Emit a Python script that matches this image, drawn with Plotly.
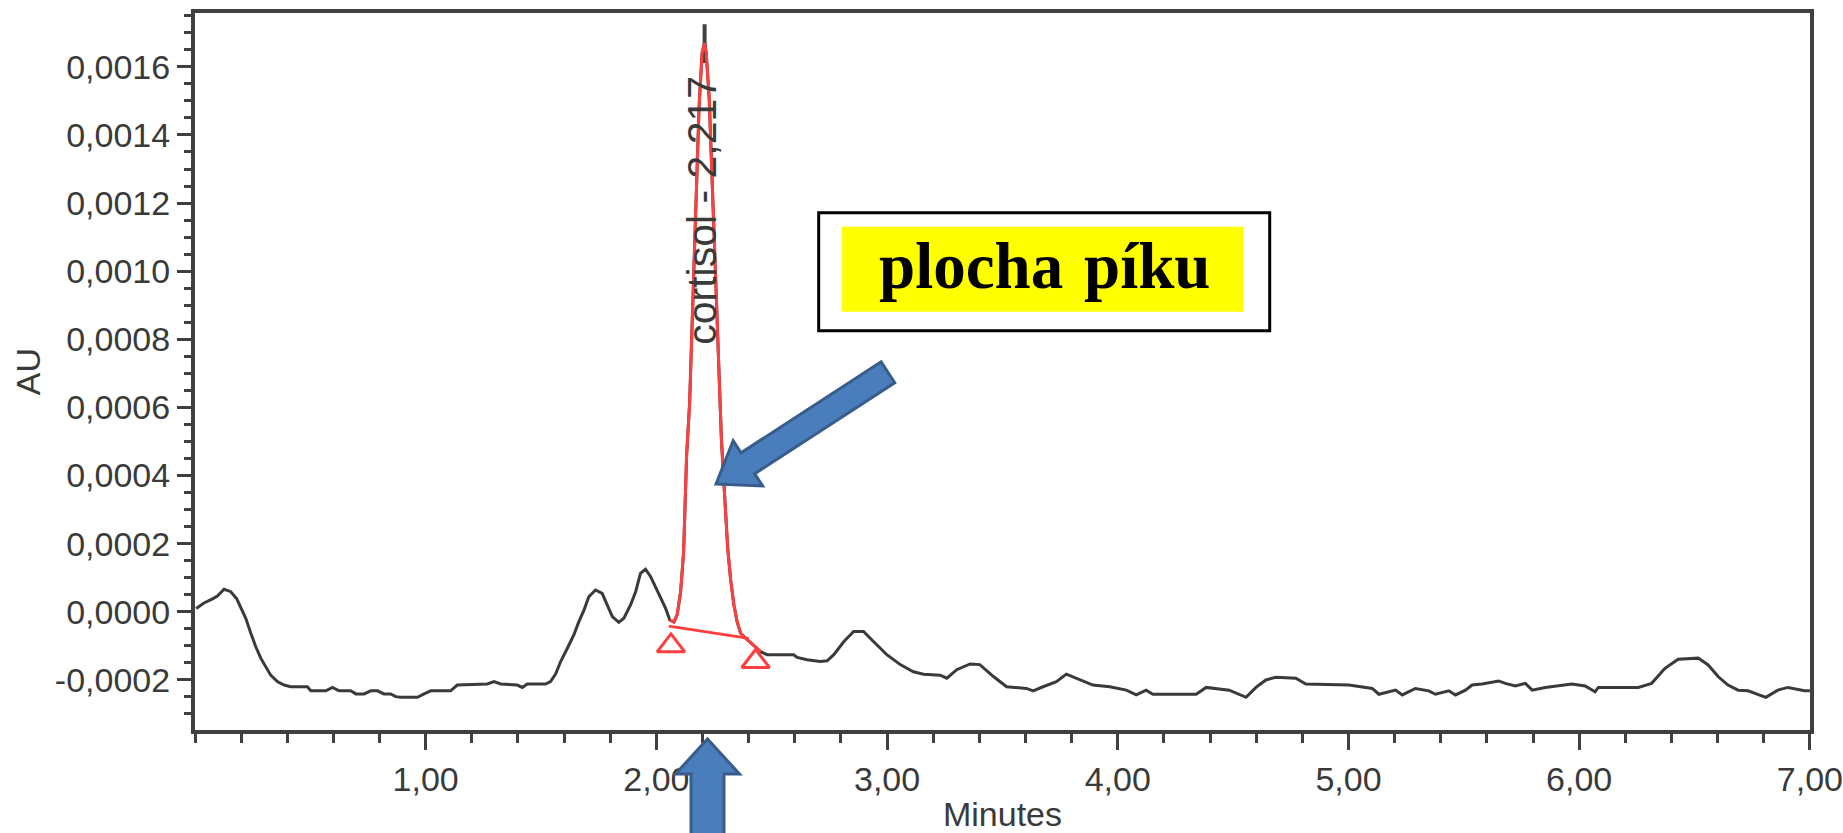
import plotly.graph_objects as go

# ---------------- data (minutes, AU) ----------------
pre_time = [0.005, 0.039, 0.076, 0.097, 0.126, 0.155, 0.181, 0.198, 0.220, 0.242,
            0.263, 0.285, 0.307, 0.328, 0.357, 0.386, 0.415, 0.487, 0.502, 0.567,
            0.596, 0.624, 0.675, 0.697, 0.733, 0.762, 0.791, 0.819, 0.848, 0.870,
            0.892, 0.964, 0.993, 1.022, 1.108, 1.137, 1.267, 1.296, 1.325, 1.397,
            1.419, 1.440, 1.520, 1.541, 1.563, 1.585, 1.614, 1.642, 1.664, 1.686,
            1.707, 1.736, 1.765, 1.787, 1.809, 1.837, 1.859, 1.888, 1.910, 1.931,
            1.953, 1.975, 2.011, 2.040, 2.058]
pre_au = [0.10e-4, 0.26e-4, 0.38e-4, 0.46e-4, 0.66e-4, 0.59e-4, 0.38e-4, 0.15e-4, -0.19e-4, -0.63e-4,
          -1.02e-4, -1.36e-4, -1.61e-4, -1.86e-4, -2.05e-4, -2.15e-4, -2.20e-4, -2.20e-4, -2.32e-4, -2.32e-4,
          -2.22e-4, -2.32e-4, -2.32e-4, -2.41e-4, -2.41e-4, -2.32e-4, -2.32e-4, -2.41e-4, -2.41e-4, -2.49e-4,
          -2.51e-4, -2.51e-4, -2.41e-4, -2.32e-4, -2.32e-4, -2.15e-4, -2.12e-4, -2.05e-4, -2.12e-4, -2.15e-4,
          -2.22e-4, -2.12e-4, -2.12e-4, -2.05e-4, -1.83e-4, -1.46e-4, -1.07e-4, -0.68e-4, -0.29e-4, 0.05e-4,
          0.44e-4, 0.64e-4, 0.54e-4, 0.20e-4, -0.14e-4, -0.31e-4, -0.19e-4, 0.20e-4, 0.59e-4, 1.13e-4,
          1.25e-4, 1.03e-4, 0.49e-4, 0.10e-4, -0.24e-4]

peak_time = [2.058, 2.076, 2.090, 2.105, 2.118, 2.131, 2.144, 2.158, 2.172, 2.185,
             2.198, 2.209, 2.216, 2.229, 2.242, 2.255, 2.268, 2.282, 2.297, 2.309,
             2.322, 2.336, 2.350, 2.365, 2.386, 2.408, 2.430, 2.452]
peak_au = [-0.24e-4, -0.30e-4, -0.09e-4, 0.59e-4, 1.76e-4, 4.60e-4, 6.13e-4, 9.18e-4, 12.14e-4, 14.82e-4,
           16.40e-4, 16.70e-4, 16.40e-4, 15.05e-4, 12.59e-4, 9.95e-4, 7.25e-4, 5.04e-4, 3.28e-4, 1.87e-4,
           0.93e-4, 0.20e-4, -0.29e-4, -0.63e-4, -0.77e-4, -0.91e-4, -1.06e-4, -1.17e-4]

post_time = [2.480, 2.595, 2.610, 2.653, 2.711, 2.740, 2.769, 2.812, 2.855, 2.898,
             2.942, 2.999, 3.057, 3.114, 3.158, 3.230, 3.259, 3.302, 3.360, 3.402,
             3.461, 3.518, 3.604, 3.633, 3.676, 3.734, 3.777, 3.835, 3.892, 3.965,
             4.037, 4.080, 4.123, 4.152, 4.340, 4.383, 4.483, 4.556, 4.599, 4.642,
             4.685, 4.772, 4.815, 5.002, 5.103, 5.132, 5.204, 5.233, 5.290, 5.348,
             5.377, 5.435, 5.464, 5.507, 5.536, 5.579, 5.651, 5.680, 5.723, 5.767,
             5.796, 5.853, 5.968, 6.026, 6.069, 6.083, 6.256, 6.314, 6.372, 6.429,
             6.516, 6.559, 6.602, 6.645, 6.689, 6.732, 6.775, 6.809, 6.861, 6.905,
             6.977, 7.000]
post_au = [-1.26e-4, -1.26e-4, -1.34e-4, -1.41e-4, -1.46e-4, -1.44e-4, -1.26e-4, -0.88e-4, -0.58e-4, -0.58e-4,
           -0.88e-4, -1.26e-4, -1.55e-4, -1.76e-4, -1.83e-4, -1.86e-4, -1.95e-4, -1.70e-4, -1.53e-4, -1.55e-4,
           -1.90e-4, -2.20e-4, -2.25e-4, -2.32e-4, -2.20e-4, -2.05e-4, -1.83e-4, -2.00e-4, -2.15e-4, -2.20e-4,
           -2.30e-4, -2.44e-4, -2.30e-4, -2.42e-4, -2.42e-4, -2.22e-4, -2.30e-4, -2.51e-4, -2.22e-4, -2.00e-4,
           -1.92e-4, -1.95e-4, -2.12e-4, -2.15e-4, -2.25e-4, -2.42e-4, -2.30e-4, -2.44e-4, -2.25e-4, -2.32e-4,
           -2.42e-4, -2.32e-4, -2.44e-4, -2.30e-4, -2.15e-4, -2.12e-4, -2.03e-4, -2.10e-4, -2.18e-4, -2.10e-4,
           -2.30e-4, -2.22e-4, -2.12e-4, -2.18e-4, -2.35e-4, -2.22e-4, -2.22e-4, -2.10e-4, -1.66e-4, -1.39e-4,
           -1.36e-4, -1.56e-4, -1.90e-4, -2.15e-4, -2.30e-4, -2.32e-4, -2.42e-4, -2.51e-4, -2.30e-4, -2.22e-4,
           -2.32e-4, -2.32e-4]

baseline_time = [2.054, 2.400]
baseline_au = [-0.42e-4, -0.78e-4]

marker_time = [2.063, 2.430]
marker_au = [-1.00e-4, -1.46e-4]

apex_time = 2.209
apex_label = "cortisol - 2,217"
leader_au = [16.11e-4, 17.25e-4]

x_tick_vals = [1, 2, 3, 4, 5, 6, 7]
x_tick_text = ["1,00", "2,00", "3,00", "4,00", "5,00", "6,00", "7,00"]
y_tick_vals = [-0.0002, 0.0, 0.0002, 0.0004, 0.0006, 0.0008, 0.0010, 0.0012, 0.0014, 0.0016]
y_tick_text = ["-0,0002", "0,0000", "0,0002", "0,0004", "0,0006", "0,0008",
               "0,0010", "0,0012", "0,0014", "0,0016"]

# ---------------- styling ----------------
W, H = 1843, 833
L, R, T, B = 195, 1810, 13, 730
AX = "#404040"
TXT = "#3a3a3a"
RED = "#ff3f3f"
BLUE_FILL = "#4a7dbb"
BLUE_LINE = "#385d8a"


def px(x):
    return (x - L) / (R - L)


def py(y):
    return (B - y) / (B - T)


def path(points):
    s = "M " + " L ".join(f"{px(x):.5f},{py(y):.5f}" for x, y in points) + " Z"
    return s


fig = go.Figure()

fig.add_trace(go.Scatter(x=pre_time + peak_time + post_time, y=pre_au + peak_au + post_au,
                         mode="lines", line=dict(color="#3a3a3a", width=3), hoverinfo="skip"))
fig.add_trace(go.Scatter(x=baseline_time, y=baseline_au, mode="lines",
                         line=dict(color=RED, width=3), hoverinfo="skip"))
fig.add_trace(go.Scatter(x=peak_time, y=peak_au, mode="lines",
                         line=dict(color=RED, width=3), hoverinfo="skip"))
fig.add_trace(go.Scatter(x=marker_time, y=marker_au, mode="markers",
                         marker=dict(symbol="triangle-up-open", size=24, color=RED,
                                     line=dict(width=3, color=RED)), hoverinfo="skip"))

shapes = []
# leader line over the apex
shapes.append(dict(type="line", xref="x", yref="y", x0=apex_time, x1=apex_time,
                   y0=leader_au[0], y1=leader_au[1], line=dict(color=AX, width=4), layer="below"))

# box "plocha píku"
shapes.append(dict(type="rect", xref="paper", yref="paper",
                   x0=px(818.7), x1=px(1269.7), y0=py(330.7), y1=py(212.7),
                   line=dict(color="black", width=3), fillcolor="white"))
shapes.append(dict(type="rect", xref="paper", yref="paper",
                   x0=px(841.7), x1=px(1243.3), y0=py(311.7), y1=py(226.7),
                   line=dict(width=0), fillcolor="#ffff00"))

# diagonal block arrow
tip = (716.0, 484.0)
ux, uy = 0.8386, -0.5452
nx, ny = 0.5452, 0.8386
head_len, head_hw, shaft_hw, total = 38.0, 27.0, 12.5, 205.0
hx, hy = tip[0] + head_len * ux, tip[1] + head_len * uy
tx, ty = tip[0] + total * ux, tip[1] + total * uy
arrow1 = [tip,
          (hx + head_hw * nx, hy + head_hw * ny),
          (hx + shaft_hw * nx, hy + shaft_hw * ny),
          (tx + shaft_hw * nx, ty + shaft_hw * ny),
          (tx - shaft_hw * nx, ty - shaft_hw * ny),
          (hx - shaft_hw * nx, hy - shaft_hw * ny),
          (hx - head_hw * nx, hy - head_hw * ny)]
shapes.append(dict(type="path", xref="paper", yref="paper", path=path(arrow1),
                   fillcolor=BLUE_FILL, line=dict(color=BLUE_LINE, width=3)))

# upward block arrow under the axis
cx, tipy, baseY, endY = 707.5, 739.0, 774.0, 850.0
arrow2 = [(cx, tipy), (cx + 32, baseY), (cx + 16.5, baseY), (cx + 16.5, endY),
          (cx - 16.5, endY), (cx - 16.5, baseY), (cx - 32, baseY)]
shapes.append(dict(type="path", xref="paper", yref="paper", path=path(arrow2),
                   fillcolor=BLUE_FILL, line=dict(color=BLUE_LINE, width=3)))

annotations = [
    dict(x=2.200, y=11.79e-4, xref="x", yref="y", text=apex_label, textangle=-90,
         showarrow=False, xanchor="center", yanchor="middle",
         font=dict(family="Liberation Sans, Arial, sans-serif", size=41, color=TXT)),
    dict(x=px(970.8), y=py(266.4), xref="paper", yref="paper", text="<b>plocha</b>",
         showarrow=False, xanchor="center", yanchor="middle",
         font=dict(family="Liberation Serif, Times New Roman, serif", size=65, color="black")),
    dict(x=px(1147.3), y=py(266.4), xref="paper", yref="paper", text="<b>píku</b>",
         showarrow=False, xanchor="center", yanchor="middle",
         font=dict(family="Liberation Serif, Times New Roman, serif", size=65, color="black")),
]

fig.update_layout(
    width=W, height=H, autosize=False,
    margin=dict(l=L, r=W - R, t=T, b=H - B, pad=0, autoexpand=False),
    plot_bgcolor="white", paper_bgcolor="white", showlegend=False,
    font=dict(family="Liberation Sans, Arial, sans-serif", size=34, color=TXT),
    shapes=shapes, annotations=annotations,
)

fig.update_xaxes(
    range=[0, 7.0005], showgrid=False, zeroline=False, automargin=False,
    showline=True, linecolor=AX, linewidth=4, mirror=True,
    ticks="outside", ticklen=16, tickwidth=3, tickcolor=AX,
    tickmode="array", tickvals=x_tick_vals, ticktext=x_tick_text,
    tickfont=dict(size=34, color=TXT), ticklabeloverflow="allow",
    minor=dict(tickmode="linear", tick0=0, dtick=0.2, ticks="outside",
               ticklen=9, tickwidth=3, tickcolor=AX),
    title=dict(text="Minutes", font=dict(size=34, color=TXT), standoff=14),
)
fig.update_yaxes(
    range=[-3.47e-4, 17.58e-4], showgrid=False, zeroline=False, automargin=False,
    showline=True, linecolor=AX, linewidth=4, mirror=True,
    ticks="outside", ticklen=14, tickwidth=3, tickcolor=AX,
    tickmode="array", tickvals=y_tick_vals, ticktext=y_tick_text,
    tickfont=dict(size=34, color=TXT),
    minor=dict(tickmode="linear", tick0=0, dtick=0.5e-4, ticks="outside",
               ticklen=7, tickwidth=3, tickcolor=AX),
    title=dict(text="AU", font=dict(size=34, color=TXT), standoff=5),
)

fig.write_html("out.html")
